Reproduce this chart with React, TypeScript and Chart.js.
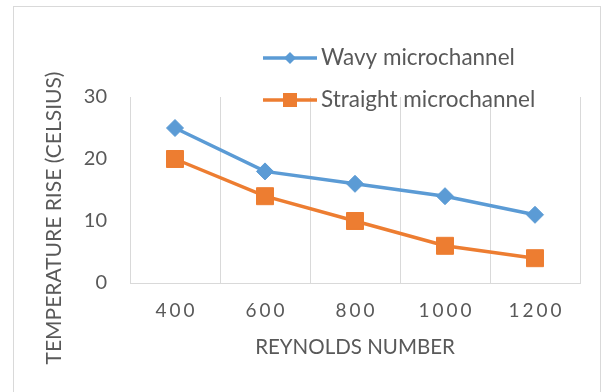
import React, { useEffect, useRef } from 'react';
import { Chart, registerables } from 'chart.js';

Chart.register(...registerables);

// Reynolds numbers on the category axis
const reynolds = ['400', '600', '800', '1000', '1200'];
// Temperature rise (°C) for each channel geometry
const wavyRise = [25, 18, 16, 14, 11];
const straightRise = [20, 14, 10, 6, 4];
// Value axis range
const yMin = 0;
const yMax = 30;
const yStep = 10;

const seriesNames = ['Wavy microchannel', 'Straight microchannel'];
const xTitle = 'REYNOLDS NUMBER';
const yTitle = 'TEMPERATURE RISE (CELSIUS)';

const BLUE = '#5B9BD5';
const ORANGE = '#ED7D31';
const TEXT = '#595959';
const GRID = '#D9D9D9';
const FONT = 'Lato, "Open Sans", sans-serif';

const W = 609;
const H = 392;

// Frame, axis titles, spaced category labels and the line+marker legend
const decorPlugin = {
  id: 'decor',
  beforeDraw(chart: any) {
    const ctx = chart.ctx as CanvasRenderingContext2D;
    ctx.save();
    ctx.fillStyle = '#ffffff';
    ctx.fillRect(0, 0, chart.width, chart.height);
    ctx.strokeStyle = GRID;
    ctx.lineWidth = 1;
    ctx.strokeRect(13.5, 6.5, chart.width - 22, chart.height + 20);
    ctx.restore();
  },
  afterDraw(chart: any) {
    const ctx = chart.ctx as CanvasRenderingContext2D;
    const area = chart.chartArea;
    const xScale = chart.scales.x;
    ctx.save();
    ctx.fillStyle = TEXT;
    ctx.textAlign = 'center';
    ctx.textBaseline = 'middle';

    // category labels with wide character spacing
    ctx.font = `19px ${FONT}`;
    (ctx as any).letterSpacing = '3px';
    reynolds.forEach((label, i) => {
      ctx.fillText(label, xScale.getPixelForTick(i) + 1.5, area.bottom + 28);
    });
    (ctx as any).letterSpacing = '0px';

    // axis titles
    ctx.font = `20.5px ${FONT}`;
    ctx.fillText(xTitle, (area.left + area.right) / 2, area.bottom + 64);
    ctx.font = `21px ${FONT}`;
    ctx.save();
    ctx.translate(54, 218);
    ctx.rotate(-Math.PI / 2);
    ctx.fillText(yTitle, 0, 0);
    ctx.restore();

    // legend: line sample with marker, then label
    const legend = [
      { label: seriesNames[0], color: BLUE, shape: 'diamond', y: 58 },
      { label: seriesNames[1], color: ORANGE, shape: 'square', y: 100 },
    ];
    const x0 = 263;
    const x1 = 317;
    const cx = (x0 + x1) / 2;
    legend.forEach((item) => {
      ctx.strokeStyle = item.color;
      ctx.fillStyle = item.color;
      ctx.lineWidth = 3.5;
      ctx.beginPath();
      ctx.moveTo(x0, item.y);
      ctx.lineTo(x1, item.y);
      ctx.stroke();
      ctx.beginPath();
      if (item.shape === 'diamond') {
        const r = 6;
        ctx.moveTo(cx - r, item.y);
        ctx.lineTo(cx, item.y - r);
        ctx.lineTo(cx + r, item.y);
        ctx.lineTo(cx, item.y + r);
        ctx.closePath();
      } else {
        const h = 7;
        ctx.rect(cx - h, item.y - h, 2 * h, 2 * h);
      }
      ctx.fill();
      ctx.fillStyle = TEXT;
      ctx.font = `22.5px ${FONT}`;
      ctx.textAlign = 'left';
      ctx.fillText(item.label, x1 + 4, item.y);
    });
    ctx.restore();
  },
};

export default function App() {
  const canvasRef = useRef<HTMLCanvasElement | null>(null);

  useEffect(() => {
    const canvas = canvasRef.current;
    if (!canvas) return;
    const chart = new Chart(canvas, {
      type: 'line',
      data: {
        labels: reynolds,
        datasets: [
          {
            label: seriesNames[0],
            data: wavyRise,
            borderColor: BLUE,
            backgroundColor: BLUE,
            borderWidth: 3.5,
            pointStyle: 'rectRot',
            pointRadius: 8.5,
            pointBorderWidth: 1,
            pointBackgroundColor: BLUE,
            pointBorderColor: BLUE,
            tension: 0,
          },
          {
            label: seriesNames[1],
            data: straightRise,
            borderColor: ORANGE,
            backgroundColor: ORANGE,
            borderWidth: 3.5,
            pointStyle: 'rect',
            pointRadius: 12,
            pointBorderWidth: 1,
            pointBackgroundColor: ORANGE,
            pointBorderColor: ORANGE,
            tension: 0,
          },
        ],
      },
      options: {
        responsive: false,
        animation: false,
        devicePixelRatio: 1,
        layout: { padding: { top: 97, right: 29, left: 0, bottom: 0 } },
        plugins: {
          legend: { display: false },
          tooltip: { enabled: false },
        },
        scales: {
          x: {
            type: 'category',
            offset: true,
            grid: { display: true, offset: true, color: GRID, lineWidth: 1, drawTicks: false },
            border: { display: true, color: GRID, width: 1 },
            ticks: { display: false },
            afterFit: (scale: any) => {
              scale.height = 109;
            },
          },
          y: {
            min: yMin,
            max: yMax,
            grid: { display: false, drawTicks: false },
            border: { display: false },
            ticks: {
              stepSize: yStep,
              padding: 23,
              color: TEXT,
              font: { family: FONT, size: 20 },
            },
            afterFit: (scale: any) => {
              scale.width = 130;
            },
          },
        },
      },
      plugins: [decorPlugin],
    });
    return () => chart.destroy();
  }, []);

  return (
    <div style={{ position: 'absolute', left: 0, top: 0, width: W, height: H }}>
      <canvas ref={canvasRef} width={W} height={H} style={{ display: 'block' }} />
    </div>
  );
}
